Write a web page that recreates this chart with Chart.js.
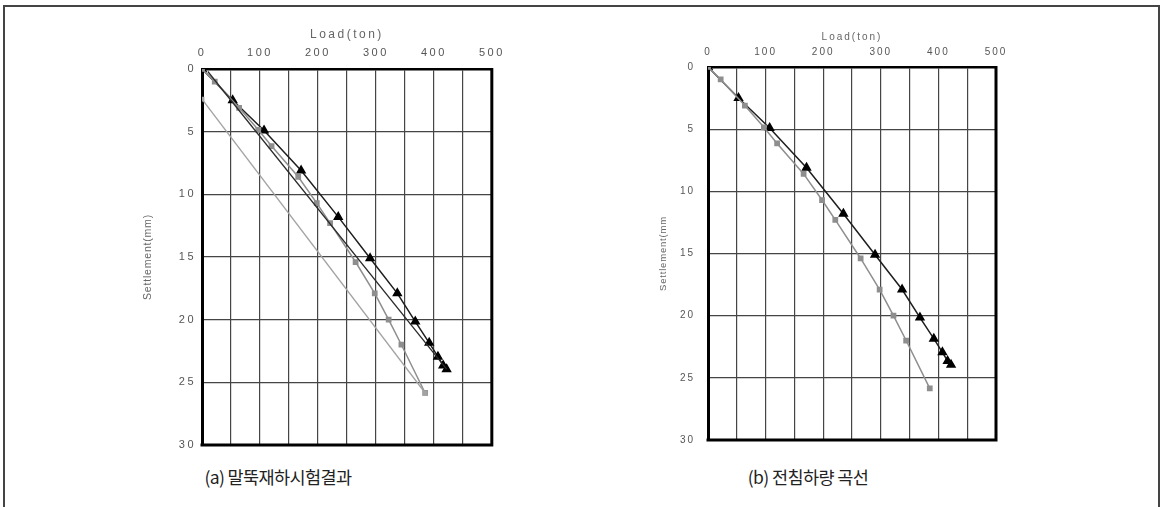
<!DOCTYPE html>
<html>
<head>
<meta charset="utf-8">
<script src="https://cdn.jsdelivr.net/npm/chart.js@4"></script>
<style>
    body { margin: 0; background: #fff; width: 1162px; height: 507px; overflow: hidden; position: relative; font-family: "Noto Sans CJK KR", sans-serif; }
    #frame { position: absolute; left: 3px; top: 5px; width: 1153px; height: 520px; border: 2px solid #444; }
    canvas { position: absolute; }
    #chartA { left: 110px; top: 20px; }
    #chartB { left: 620px; top: 20px; }
    .caption { position: absolute; top: 464px; font-size: 17.5px; color: #222; text-align: center; width: 300px; letter-spacing: -0.6px; }
    #capA { left: 128px; }
    #capB { left: 658px; }
</style>
</head>
<body>
<div id="frame"></div>
<canvas id="chartA" width="400" height="440"></canvas>
<canvas id="chartB" width="400" height="440"></canvas>
<div class="caption" id="capA">(a) 말뚝재하시험결과</div>
<div class="caption" id="capB">(b) 전침하량 곡선</div>
<script>
// loading curve, triangles (ton / mm)
var loadTri = [0, 53, 107, 171, 235, 290, 337, 368, 392, 407, 416, 422];
var settleTri = [0, 2.5, 4.9, 8.1, 11.8, 15.1, 17.9, 20.15, 21.85, 22.95, 23.65, 23.95];

// loading curve, squares
var loadSq = [0, 22, 64, 97, 120, 166, 198, 221, 265, 298, 322, 344, 385];
var settleSq = [0, 1.0, 3.1, 4.85, 6.15, 8.6, 10.7, 12.3, 15.4, 17.9, 20.0, 22.0, 25.85];

// unloading lines (left chart only)
var unloadTriLoad = [422, 10];
var unloadTriSettle = [23.95, 0.2];
var unloadSqLoad = [385, 0];
var unloadSqSettle = [25.85, 2.4];

var loadTicks = [0, 100, 200, 300, 400, 500];
var settleTicks = [0, 5, 10, 15, 20, 25, 30];

var SettlementCharts =
{
    init: function()
    {
        this.drawChart("chartA", {
            withUnload: true, spacing: 2.5, tickSize: 11, titleSize: 12, yTitleSize: 10.5,
            yWidth: 92, xHeight: 49, yTitleX: 38, xTitlePad: 7, xTickPad: 9, yTickPad: 6,
            padRight: 13, padBottom: 15, yTitle: "Settlement(mm)"
        });
        this.drawChart("chartB", {
            withUnload: false, spacing: 2, tickSize: 10, titleSize: 10, yTitleSize: 9.5,
            yWidth: 88, xHeight: 47, yTitleX: 43, xTitlePad: 11, xTickPad: 9, yTickPad: 13,
            padRight: 24, padBottom: 20, yTitle: "Settlement(mm"
        });
    },

    points: function(xs, ys)
    {
        return xs.map(function(x, i){ return {x: x, y: ys[i]}; });
    },

    drawChart: function(id, o)
    {
        var datasets = [];
        if(o.withUnload)
        {
            datasets.push({
                data: this.points(unloadSqLoad, unloadSqSettle),
                borderColor: "#a3a3a3", borderWidth: 1.3,
                pointStyle: "rect", pointRadius: 2.5,
                pointBackgroundColor: "#a3a3a3", pointBorderColor: "#a3a3a3"
            });
            datasets.push({
                data: this.points(unloadTriLoad, unloadTriSettle),
                borderColor: "#2a2a2a", borderWidth: 1.3, pointRadius: 0
            });
        }
        datasets.push({
            data: this.points(loadSq, settleSq),
            borderColor: "#8e8e8e", borderWidth: 1.5,
            pointStyle: "rect", pointRadius: 3,
            pointBackgroundColor: "#8e8e8e", pointBorderColor: "#8e8e8e"
        });
        datasets.push({
            data: this.points(loadTri, settleTri),
            borderColor: "#1e1e1e", borderWidth: 1.5,
            pointStyle: "triangle", pointRadius: 4.5,
            pointBackgroundColor: "#000", pointBorderColor: "#000"
        });

        //Right and bottom edges of the plot box, spaced labels, y title
        var framePlugin = {
            id: "plotFrame",
            beforeDraw: function(chart) { chart.ctx.letterSpacing = o.spacing + "px"; },
            afterDraw: function(chart) {
                var a = chart.chartArea, ctx = chart.ctx;
                ctx.save();
                ctx.strokeStyle = "#000";
                ctx.lineWidth = 3;
                ctx.beginPath();
                ctx.moveTo(a.right, a.top - 1);
                ctx.lineTo(a.right, a.bottom);
                ctx.lineTo(a.left - 1.5, a.bottom);
                ctx.stroke();

                ctx.letterSpacing = "0.8px";
                ctx.fillStyle = "#666";
                ctx.font = o.yTitleSize + "px 'Liberation Sans'";
                ctx.textAlign = "center";
                ctx.textBaseline = "middle";
                ctx.translate(o.yTitleX, (a.top + a.bottom) / 2);
                ctx.rotate(-Math.PI / 2);
                ctx.fillText(o.yTitle, 0, 0);
                ctx.restore();
            }
        };

        new Chart(document.getElementById(id), {
            type: "scatter",
            data: { datasets: datasets },
            plugins: [framePlugin],
            options: {
                responsive: false,
                animation: false,
                devicePixelRatio: 1,
                layout: { padding: { left: 0, top: 0, right: o.padRight, bottom: o.padBottom } },
                plugins: { legend: { display: false }, tooltip: { enabled: false } },
                elements: { line: { tension: 0 } },
                datasets: { scatter: { showLine: true } },
                scales: {
                    x: {
                        type: "linear", position: "top", min: 0, max: 500,
                        afterFit: function(s) { s.height = o.xHeight; },
                        afterBuildTicks: function(s) {
                            s.ticks = [];
                            for(var v = 0; v <= 500; v += 50) { s.ticks.push({value: v}); }
                        },
                        ticks: {
                            padding: o.xTickPad, color: "#555", maxRotation: 0, autoSkip: false,
                            font: { family: "Liberation Sans", size: o.tickSize },
                            callback: function(v) { return loadTicks.indexOf(v) >= 0 ? String(v) : ""; }
                        },
                        grid: { color: "#454545", lineWidth: 1.2, drawTicks: false },
                        border: { display: true, color: "#000", width: 2.5 },
                        title: {
                            display: true, text: "Load(ton)", color: "#666",
                            font: { family: "Liberation Sans", size: o.titleSize },
                            padding: { top: o.xTitlePad, bottom: 0 }
                        }
                    },
                    y: {
                        type: "linear", reverse: true, min: 0, max: 30,
                        afterFit: function(s) { s.width = o.yWidth; },
                        afterBuildTicks: function(s) {
                            s.ticks = settleTicks.map(function(v){ return {value: v}; });
                        },
                        ticks: {
                            padding: o.yTickPad, color: "#555",
                            font: { family: "Liberation Sans", size: o.tickSize }
                        },
                        grid: { color: "#454545", lineWidth: 1.2, drawTicks: false },
                        border: { display: true, color: "#000", width: 3 },
                        title: { display: false }
                    }
                }
            }
        });
    }
}
SettlementCharts.init();
</script>
</body>
</html>
